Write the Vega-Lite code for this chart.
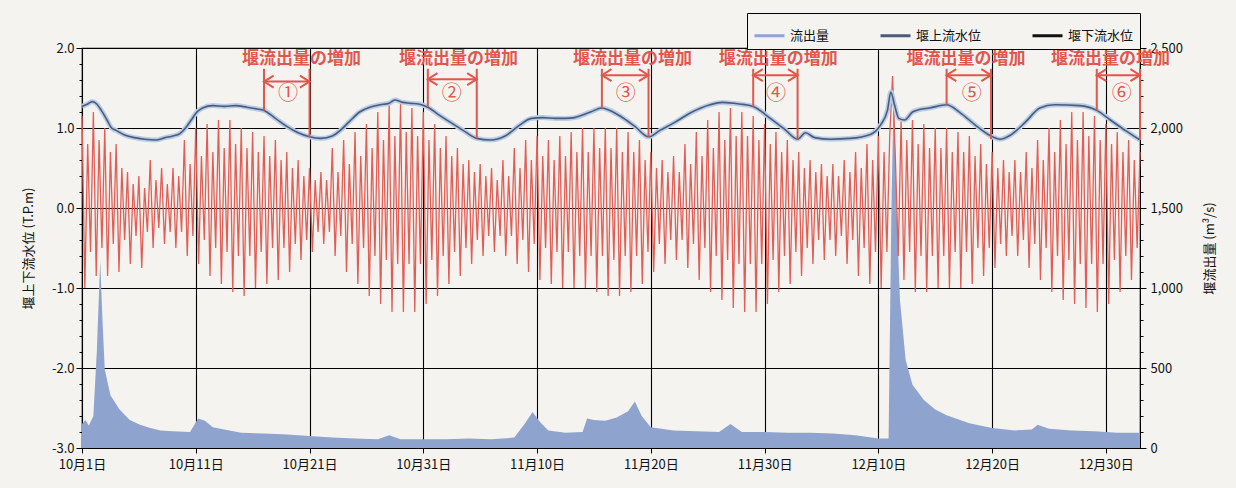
{
"$schema": "https://vega.github.io/schema/vega-lite/v6.json",
"width": 1058,
"height": 400,
"autosize": {"type": "none"},
"padding": {"left": 82, "top": 48, "right": 96, "bottom": 40},
"background": "#f5f3ef",
"config": {
  "font": "Noto Sans CJK JP",
  "view": {"stroke": "#000000", "strokeWidth": 1.2},
  "axis": {"labelFont": "Noto Sans CJK JP", "titleFont": "Noto Sans CJK JP", "labelFontSize": 13, "labelColor": "#111111", "titleColor": "#111111", "titleFontWeight": "normal", "titleFontSize": 13, "domainColor": "#000000", "tickColor": "#000000", "labelOverlap": false, "labelFlush": false, "labelBound": false}
},
"datasets": {
"flow": [{"d":0,"q":150},{"d":0.3,"q":175},{"d":0.6,"q":140},{"d":1.0,"q":200},{"d":1.3,"q":600},{"d":1.6,"q":1170},{"d":1.8,"q":800},{"d":2.0,"q":490},{"d":2.5,"q":330},{"d":3.3,"q":240},{"d":4.2,"q":175},{"d":5.1,"q":145},{"d":6.0,"q":125},{"d":6.9,"q":110},{"d":8.0,"q":105},{"d":9.5,"q":100},{"d":10.2,"q":185},{"d":10.8,"q":170},{"d":11.5,"q":130},{"d":12.5,"q":115},{"d":14,"q":95},{"d":16,"q":90},{"d":18,"q":85},{"d":20,"q":75},{"d":22,"q":65},{"d":24,"q":60},{"d":26,"q":55},{"d":27,"q":80},{"d":28,"q":55},{"d":30,"q":55},{"d":32,"q":55},{"d":34,"q":60},{"d":36,"q":55},{"d":38,"q":65},{"d":39.0,"q":160},{"d":39.6,"q":225},{"d":40.3,"q":160},{"d":41.0,"q":110},{"d":42.5,"q":95},{"d":44.0,"q":100},{"d":44.4,"q":185},{"d":45.0,"q":175},{"d":46.0,"q":170},{"d":47.0,"q":190},{"d":48.0,"q":230},{"d":48.6,"q":290},{"d":49.2,"q":200},{"d":50.0,"q":130},{"d":52,"q":110},{"d":54,"q":105},{"d":56,"q":100},{"d":57,"q":150},{"d":58,"q":100},{"d":60,"q":100},{"d":62,"q":95},{"d":64,"q":95},{"d":66,"q":90},{"d":68,"q":80},{"d":70,"q":60},{"d":70.9,"q":60},{"d":71.15,"q":1500},{"d":71.35,"q":2250},{"d":71.6,"q":1500},{"d":71.9,"q":925},{"d":72.4,"q":550},{"d":73.0,"q":395},{"d":74.0,"q":300},{"d":75.0,"q":240},{"d":76.0,"q":205},{"d":78.0,"q":155},{"d":80.0,"q":125},{"d":82.0,"q":110},{"d":83.5,"q":115},{"d":84.0,"q":145},{"d":85.0,"q":120},{"d":87.0,"q":110},{"d":89.0,"q":105},{"d":91.0,"q":95},{"d":93.0,"q":95}],
"up": [{"d":0,"u":1.27},{"d":0.5,"u":1.3},{"d":0.9,"u":1.33},{"d":1.3,"u":1.3},{"d":1.7,"u":1.22},{"d":2.2,"u":1.1},{"d":2.6,"u":1.0},{"d":3.0,"u":0.97},{"d":3.8,"u":0.91},{"d":4.6,"u":0.88},{"d":5.5,"u":0.86},{"d":6.5,"u":0.85},{"d":7.3,"u":0.88},{"d":8.0,"u":0.9},{"d":8.6,"u":0.93},{"d":9.1,"u":1.0},{"d":9.6,"u":1.1},{"d":10.1,"u":1.2},{"d":10.6,"u":1.25},{"d":11.5,"u":1.28},{"d":12.5,"u":1.27},{"d":13.5,"u":1.28},{"d":14.5,"u":1.26},{"d":15.3,"u":1.24},{"d":16.0,"u":1.22},{"d":17.0,"u":1.12},{"d":18.0,"u":1.02},{"d":19.0,"u":0.94},{"d":20.0,"u":0.89},{"d":21.0,"u":0.87},{"d":22.0,"u":0.9},{"d":22.7,"u":0.97},{"d":23.5,"u":1.08},{"d":24.4,"u":1.2},{"d":25.3,"u":1.26},{"d":26.2,"u":1.29},{"d":27.0,"u":1.31},{"d":27.5,"u":1.35},{"d":28.2,"u":1.32},{"d":28.8,"u":1.31},{"d":29.6,"u":1.3},{"d":30.4,"u":1.26},{"d":31.4,"u":1.16},{"d":32.4,"u":1.07},{"d":33.5,"u":0.97},{"d":34.7,"u":0.87},{"d":35.9,"u":0.85},{"d":37.2,"u":0.9},{"d":38.5,"u":1.04},{"d":39.5,"u":1.12},{"d":40.5,"u":1.13},{"d":41.6,"u":1.12},{"d":42.5,"u":1.12},{"d":43.3,"u":1.13},{"d":44.7,"u":1.2},{"d":45.7,"u":1.25},{"d":46.4,"u":1.22},{"d":47.3,"u":1.15},{"d":48.6,"u":1.02},{"d":49.8,"u":0.89},{"d":50.8,"u":0.97},{"d":52.1,"u":1.07},{"d":53.5,"u":1.19},{"d":55.2,"u":1.29},{"d":56.3,"u":1.32},{"d":57.8,"u":1.3},{"d":59.0,"u":1.27},{"d":60.5,"u":1.12},{"d":61.8,"u":0.98},{"d":62.9,"u":0.86},{"d":63.6,"u":0.94},{"d":64.4,"u":0.88},{"d":65.8,"u":0.86},{"d":67.5,"u":0.87},{"d":69.3,"u":0.92},{"d":70.2,"u":1.04},{"d":70.8,"u":1.22},{"d":71.1,"u":1.45},{"d":71.4,"u":1.3},{"d":71.8,"u":1.12},{"d":72.3,"u":1.1},{"d":73.0,"u":1.2},{"d":73.6,"u":1.23},{"d":74.5,"u":1.25},{"d":76.0,"u":1.29},{"d":77.2,"u":1.19},{"d":78.5,"u":1.04},{"d":79.9,"u":0.9},{"d":80.7,"u":0.86},{"d":81.6,"u":0.91},{"d":82.9,"u":1.07},{"d":84.2,"u":1.25},{"d":85.5,"u":1.29},{"d":87.7,"u":1.28},{"d":89.2,"u":1.22},{"d":90.4,"u":1.1},{"d":91.7,"u":0.97},{"d":93.0,"u":0.85}],
"tide": [{"d":0,"w":1.15},{"d":0.25,"w":-1.0},{"d":0.5,"w":0.8},{"d":0.75,"w":-0.55},
{"d":1,"w":1.2},{"d":1.25,"w":-0.85},{"d":1.5,"w":0.85},{"d":1.75,"w":-0.5},
{"d":2,"w":1.0},{"d":2.25,"w":-0.85},{"d":2.5,"w":0.7},{"d":2.75,"w":-0.45},
{"d":3,"w":0.8},{"d":3.25,"w":-0.8},{"d":3.5,"w":0.5},{"d":3.75,"w":-0.4},
{"d":4,"w":0.45},{"d":4.25,"w":-0.7},{"d":4.5,"w":0.3},{"d":4.75,"w":-0.35},
{"d":5,"w":0.4},{"d":5.25,"w":-0.75},{"d":5.5,"w":0.25},{"d":5.75,"w":-0.3},
{"d":6,"w":0.6},{"d":6.25,"w":-0.5},{"d":6.5,"w":0.35},{"d":6.75,"w":-0.25},
{"d":7,"w":0.5},{"d":7.25,"w":-0.45},{"d":7.5,"w":0.3},{"d":7.75,"w":-0.3},
{"d":8,"w":0.5},{"d":8.25,"w":-0.5},{"d":8.5,"w":0.4},{"d":8.75,"w":-0.3},
{"d":9,"w":0.85},{"d":9.25,"w":-0.6},{"d":9.5,"w":0.55},{"d":9.75,"w":-0.35},
{"d":10,"w":1.0},{"d":10.25,"w":-0.7},{"d":10.5,"w":0.65},{"d":10.75,"w":-0.4},
{"d":11,"w":1.05},{"d":11.25,"w":-0.85},{"d":11.5,"w":0.7},{"d":11.75,"w":-0.5},
{"d":12,"w":1.1},{"d":12.25,"w":-0.95},{"d":12.5,"w":0.75},{"d":12.75,"w":-0.55},
{"d":13,"w":1.1},{"d":13.25,"w":-1.05},{"d":13.5,"w":0.8},{"d":13.75,"w":-0.6},
{"d":14,"w":1.0},{"d":14.25,"w":-1.1},{"d":14.5,"w":0.75},{"d":14.75,"w":-0.6},
{"d":15,"w":0.95},{"d":15.25,"w":-1.0},{"d":15.5,"w":0.7},{"d":15.75,"w":-0.55},
{"d":16,"w":0.9},{"d":16.25,"w":-0.95},{"d":16.5,"w":0.65},{"d":16.75,"w":-0.5},
{"d":17,"w":0.85},{"d":17.25,"w":-0.9},{"d":17.5,"w":0.6},{"d":17.75,"w":-0.5},
{"d":18,"w":0.7},{"d":18.25,"w":-0.8},{"d":18.5,"w":0.5},{"d":18.75,"w":-0.45},
{"d":19,"w":0.6},{"d":19.25,"w":-0.65},{"d":19.5,"w":0.4},{"d":19.75,"w":-0.4},
{"d":20,"w":0.5},{"d":20.25,"w":-0.55},{"d":20.5,"w":0.35},{"d":20.75,"w":-0.3},
{"d":21,"w":0.45},{"d":21.25,"w":-0.45},{"d":21.5,"w":0.35},{"d":21.75,"w":-0.3},
{"d":22,"w":0.75},{"d":22.25,"w":-0.6},{"d":22.5,"w":0.45},{"d":22.75,"w":-0.35},
{"d":23,"w":0.85},{"d":23.25,"w":-0.8},{"d":23.5,"w":0.55},{"d":23.75,"w":-0.45},
{"d":24,"w":0.95},{"d":24.25,"w":-0.95},{"d":24.5,"w":0.65},{"d":24.75,"w":-0.5},
{"d":25,"w":1.05},{"d":25.25,"w":-1.1},{"d":25.5,"w":0.75},{"d":25.75,"w":-0.6},
{"d":26,"w":1.2},{"d":26.25,"w":-1.2},{"d":26.5,"w":0.85},{"d":26.75,"w":-0.65},
{"d":27,"w":1.3},{"d":27.25,"w":-1.3},{"d":27.5,"w":0.9},{"d":27.75,"w":-0.7},
{"d":28,"w":1.3},{"d":28.25,"w":-1.3},{"d":28.5,"w":0.95},{"d":28.75,"w":-0.7},
{"d":29,"w":1.25},{"d":29.25,"w":-1.3},{"d":29.5,"w":0.9},{"d":29.75,"w":-0.7},
{"d":30,"w":1.2},{"d":30.25,"w":-1.2},{"d":30.5,"w":0.85},{"d":30.75,"w":-0.65},
{"d":31,"w":1.05},{"d":31.25,"w":-1.1},{"d":31.5,"w":0.75},{"d":31.75,"w":-0.6},
{"d":32,"w":0.9},{"d":32.25,"w":-0.95},{"d":32.5,"w":0.65},{"d":32.75,"w":-0.55},
{"d":33,"w":0.75},{"d":33.25,"w":-0.85},{"d":33.5,"w":0.55},{"d":33.75,"w":-0.5},
{"d":34,"w":0.6},{"d":34.25,"w":-0.7},{"d":34.5,"w":0.45},{"d":34.75,"w":-0.4},
{"d":35,"w":0.55},{"d":35.25,"w":-0.6},{"d":35.5,"w":0.4},{"d":35.75,"w":-0.35},
{"d":36,"w":0.5},{"d":36.25,"w":-0.55},{"d":36.5,"w":0.35},{"d":36.75,"w":-0.35},
{"d":37,"w":0.6},{"d":37.25,"w":-0.6},{"d":37.5,"w":0.4},{"d":37.75,"w":-0.35},
{"d":38,"w":0.75},{"d":38.25,"w":-0.7},{"d":38.5,"w":0.5},{"d":38.75,"w":-0.4},
{"d":39,"w":0.85},{"d":39.25,"w":-0.8},{"d":39.5,"w":0.6},{"d":39.75,"w":-0.45},
{"d":40,"w":0.9},{"d":40.25,"w":-0.9},{"d":40.5,"w":0.65},{"d":40.75,"w":-0.5},
{"d":41,"w":0.85},{"d":41.25,"w":-0.95},{"d":41.5,"w":0.6},{"d":41.75,"w":-0.55},
{"d":42,"w":0.9},{"d":42.25,"w":-1.0},{"d":42.5,"w":0.65},{"d":42.75,"w":-0.55},
{"d":43,"w":0.95},{"d":43.25,"w":-1.0},{"d":43.5,"w":0.7},{"d":43.75,"w":-0.6},
{"d":44,"w":1.0},{"d":44.25,"w":-1.0},{"d":44.5,"w":0.7},{"d":44.75,"w":-0.6},
{"d":45,"w":1.0},{"d":45.25,"w":-1.05},{"d":45.5,"w":0.75},{"d":45.75,"w":-0.6},
{"d":46,"w":1.0},{"d":46.25,"w":-1.1},{"d":46.5,"w":0.75},{"d":46.75,"w":-0.65},
{"d":47,"w":1.0},{"d":47.25,"w":-1.1},{"d":47.5,"w":0.7},{"d":47.75,"w":-0.6},
{"d":48,"w":0.95},{"d":48.25,"w":-1.05},{"d":48.5,"w":0.7},{"d":48.75,"w":-0.6},
{"d":49,"w":0.85},{"d":49.25,"w":-0.95},{"d":49.5,"w":0.6},{"d":49.75,"w":-0.55},
{"d":50,"w":0.7},{"d":50.25,"w":-0.8},{"d":50.5,"w":0.5},{"d":50.75,"w":-0.45},
{"d":51,"w":0.6},{"d":51.25,"w":-0.7},{"d":51.5,"w":0.45},{"d":51.75,"w":-0.4},
{"d":52,"w":0.65},{"d":52.25,"w":-0.65},{"d":52.5,"w":0.45},{"d":52.75,"w":-0.4},
{"d":53,"w":0.8},{"d":53.25,"w":-0.75},{"d":53.5,"w":0.55},{"d":53.75,"w":-0.45},
{"d":54,"w":0.95},{"d":54.25,"w":-0.9},{"d":54.5,"w":0.65},{"d":54.75,"w":-0.5},
{"d":55,"w":1.1},{"d":55.25,"w":-1.05},{"d":55.5,"w":0.75},{"d":55.75,"w":-0.6},
{"d":56,"w":1.2},{"d":56.25,"w":-1.15},{"d":56.5,"w":0.85},{"d":56.75,"w":-0.65},
{"d":57,"w":1.25},{"d":57.25,"w":-1.25},{"d":57.5,"w":0.9},{"d":57.75,"w":-0.7},
{"d":58,"w":1.2},{"d":58.25,"w":-1.3},{"d":58.5,"w":0.9},{"d":58.75,"w":-0.7},
{"d":59,"w":1.15},{"d":59.25,"w":-1.3},{"d":59.5,"w":0.85},{"d":59.75,"w":-0.7},
{"d":60,"w":1.05},{"d":60.25,"w":-1.2},{"d":60.5,"w":0.8},{"d":60.75,"w":-0.65},
{"d":61,"w":0.95},{"d":61.25,"w":-1.05},{"d":61.5,"w":0.7},{"d":61.75,"w":-0.6},
{"d":62,"w":0.85},{"d":62.25,"w":-0.95},{"d":62.5,"w":0.6},{"d":62.75,"w":-0.55},
{"d":63,"w":0.7},{"d":63.25,"w":-0.85},{"d":63.5,"w":0.5},{"d":63.75,"w":-0.5},
{"d":64,"w":0.6},{"d":64.25,"w":-0.7},{"d":64.5,"w":0.45},{"d":64.75,"w":-0.4},
{"d":65,"w":0.55},{"d":65.25,"w":-0.65},{"d":65.5,"w":0.4},{"d":65.75,"w":-0.4},
{"d":66,"w":0.55},{"d":66.25,"w":-0.6},{"d":66.5,"w":0.4},{"d":66.75,"w":-0.35},
{"d":67,"w":0.6},{"d":67.25,"w":-0.7},{"d":67.5,"w":0.45},{"d":67.75,"w":-0.4},
{"d":68,"w":0.7},{"d":68.25,"w":-0.85},{"d":68.5,"w":0.5},{"d":68.75,"w":-0.5},
{"d":69,"w":0.8},{"d":69.25,"w":-0.95},{"d":69.5,"w":0.6},{"d":69.75,"w":-0.55},
{"d":70,"w":0.9},{"d":70.25,"w":-1.0},{"d":70.5,"w":0.7},{"d":70.75,"w":-0.55},
{"d":71,"w":0.9},{"d":71.25,"w":1.65},{"d":71.5,"w":0.6},{"d":71.75,"w":-0.6},
{"d":72,"w":1.1},{"d":72.25,"w":-0.9},{"d":72.5,"w":0.85},{"d":72.75,"w":-0.55},
{"d":73,"w":1.1},{"d":73.25,"w":-1.05},{"d":73.5,"w":0.8},{"d":73.75,"w":-0.6},
{"d":74,"w":1.05},{"d":74.25,"w":-1.05},{"d":74.5,"w":0.75},{"d":74.75,"w":-0.6},
{"d":75,"w":1.0},{"d":75.25,"w":-1.0},{"d":75.5,"w":0.75},{"d":75.75,"w":-0.6},
{"d":76,"w":1.0},{"d":76.25,"w":-1.0},{"d":76.5,"w":0.7},{"d":76.75,"w":-0.55},
{"d":77,"w":0.95},{"d":77.25,"w":-1.0},{"d":77.5,"w":0.7},{"d":77.75,"w":-0.55},
{"d":78,"w":0.9},{"d":78.25,"w":-0.95},{"d":78.5,"w":0.65},{"d":78.75,"w":-0.5},
{"d":79,"w":0.8},{"d":79.25,"w":-0.85},{"d":79.5,"w":0.55},{"d":79.75,"w":-0.5},
{"d":80,"w":0.7},{"d":80.25,"w":-0.75},{"d":80.5,"w":0.5},{"d":80.75,"w":-0.45},
{"d":81,"w":0.6},{"d":81.25,"w":-0.6},{"d":81.5,"w":0.45},{"d":81.75,"w":-0.35},
{"d":82,"w":0.6},{"d":82.25,"w":-0.6},{"d":82.5,"w":0.45},{"d":82.75,"w":-0.4},
{"d":83,"w":0.7},{"d":83.25,"w":-0.75},{"d":83.5,"w":0.5},{"d":83.75,"w":-0.45},
{"d":84,"w":0.85},{"d":84.25,"w":-0.9},{"d":84.5,"w":0.6},{"d":84.75,"w":-0.5},
{"d":85,"w":1.0},{"d":85.25,"w":-1.05},{"d":85.5,"w":0.7},{"d":85.75,"w":-0.6},
{"d":86,"w":1.1},{"d":86.25,"w":-1.15},{"d":86.5,"w":0.8},{"d":86.75,"w":-0.65},
{"d":87,"w":1.2},{"d":87.25,"w":-1.2},{"d":87.5,"w":0.85},{"d":87.75,"w":-0.7},
{"d":88,"w":1.2},{"d":88.25,"w":-1.25},{"d":88.5,"w":0.9},{"d":88.75,"w":-0.7},
{"d":89,"w":1.15},{"d":89.25,"w":-1.3},{"d":89.5,"w":0.85},{"d":89.75,"w":-0.7},
{"d":90,"w":1.05},{"d":90.25,"w":-1.2},{"d":90.5,"w":0.8},{"d":90.75,"w":-0.65},
{"d":91,"w":0.95},{"d":91.25,"w":-1.05},{"d":91.5,"w":0.7},{"d":91.75,"w":-0.6},
{"d":92,"w":0.85},{"d":92.25,"w":-0.9},{"d":92.5,"w":0.6},{"d":92.75,"w":-0.5},
{"d":93,"w":0.7}],
"ann": [
 {"n":"①","lab":"堰流出量の増加","s":16.0,"e":20.0,"t":19.3,"c":18.1,"a":1.58,"bl":1.22,"br":0.89},
 {"n":"②","lab":"堰流出量の増加","s":30.4,"e":34.7,"t":33.1,"c":32.5,"a":1.61,"bl":1.26,"br":0.87},
 {"n":"③","lab":"堰流出量の増加","s":45.7,"e":49.8,"t":48.4,"c":47.8,"a":1.66,"bl":1.25,"br":0.89},
 {"n":"④","lab":"堰流出量の増加","s":59.0,"e":62.9,"t":61.2,"c":61.0,"a":1.66,"bl":1.27,"br":0.86},
 {"n":"⑤","lab":"堰流出量の増加","s":76.0,"e":79.9,"t":77.7,"c":78.2,"a":1.66,"bl":1.29,"br":0.86},
 {"n":"⑥","lab":"堰流出量の増加","s":89.2,"e":93.0,"t":90.4,"c":91.4,"a":1.66,"bl":1.22,"br":0.85}
]
},
"resolve": {"scale": {"y": "independent"}},
"layer": [
 {
  "data": {"name": "flow"},
  "mark": {"type": "area", "opacity": 1},
  "encoding": {
   "x": {"field": "d", "type": "quantitative", "scale": {"domain": [0, 93], "nice": false, "zero": false},
     "axis": {"values": [0,10,20,30,40,50,60,70,80,90], "labelExpr": "['10月1日','10月11日','10月21日','10月31日','11月10日','11月20日','11月30日','12月10日','12月20日','12月30日'][round(datum.value/10)]", "grid": true, "gridColor": "#000000", "gridWidth": 1.1, "tickSize": 5, "labelPadding": 5, "title": null}},
   "y": {"field": "q", "type": "quantitative", "scale": {"domain": [0, 2500], "nice": false},
     "axis": {"orient": "right", "values": [0,100,200,300,400,500,600,700,800,900,1000,1100,1200,1300,1400,1500,1600,1700,1800,1900,2000,2100,2200,2300,2400,2500],
       "labelExpr": "datum.value % 500 === 0 ? format(datum.value, ',') : ''", "grid": false,
       "tickSize": {"condition": {"test": "datum.value % 500 === 0", "value": 6}, "value": 3},
       "labelPadding": 4, "title": "堰流出量 (m³/s)", "titleAngle": 270, "titlePadding": 34}},
   "color": {"datum": "流出量", "type": "nominal",
     "scale": {"domain": ["流出量", "堰上流水位", "堰下流水位"], "range": ["#8ea3cd", "#4b5b7c", "#111111"]},
     "legend": {"orient": "none", "legendX": 665, "legendY": -35, "direction": "horizontal", "title": null,
       "symbolType": "stroke", "symbolSize": 900, "symbolStrokeWidth": 3,
       "labelFont": "Noto Sans CJK JP", "labelFontSize": 13, "labelColor": "#111111",
       "strokeColor": "#000000", "fillColor": "#f5f3ef", "padding": 6, "columnPadding": 44, "labelOffset": 4}}
  }
 },
 {
  "data": {"name": "tide"},
  "mark": {"type": "line", "strokeWidth": 1.3},
  "encoding": {
   "x": {"field": "d", "type": "quantitative"},
   "y": {"field": "w", "type": "quantitative", "scale": {"domain": [-3, 2], "nice": false, "zero": false},
     "axis": {"orient": "left", "values": [-3,-2.8,-2.6,-2.4,-2.2,-2,-1.8,-1.6,-1.4,-1.2,-1,-0.8,-0.6,-0.4,-0.2,0,0.2,0.4,0.6,0.8,1,1.2,1.4,1.6,1.8,2],
       "labelExpr": "abs(datum.value - round(datum.value)) < 0.01 ? replace(format(datum.value, '.1f'), '−', '-') : ''",
       "grid": true, "gridColor": "#000000", "gridWidth": 1.1,
       "gridOpacity": {"condition": {"test": "abs(datum.value - round(datum.value)) < 0.01", "value": 1}, "value": 0},
       "tickSize": {"condition": {"test": "abs(datum.value - round(datum.value)) < 0.01", "value": 6}, "value": 3},
       "labelPadding": 2, "title": "堰上下流水位 (T.P.m)", "titlePadding": 16}},
   "color": {"datum": "堰下流水位", "type": "nominal"},
   "stroke": {"value": "#e25d55"}
  }
 },
 {
  "data": {"name": "up"},
  "mark": {"type": "line", "color": "#b9cde6", "strokeWidth": 5, "interpolate": "monotone"},
  "encoding": {
   "x": {"field": "d", "type": "quantitative"},
   "y": {"field": "u", "type": "quantitative", "scale": {"domain": [-3, 2], "nice": false, "zero": false}, "axis": null}
  }
 },
 {
  "data": {"name": "up"},
  "mark": {"type": "line", "strokeWidth": 1.6, "interpolate": "monotone"},
  "encoding": {
   "x": {"field": "d", "type": "quantitative"},
   "y": {"field": "u", "type": "quantitative", "scale": {"domain": [-3, 2], "nice": false, "zero": false}, "axis": null},
   "color": {"datum": "堰上流水位", "type": "nominal"}
  }
 },
 {
  "data": {"name": "ann"},
  "mark": {"type": "rule", "color": "#e0574e", "strokeWidth": 2},
  "encoding": {
   "x": {"field": "s", "type": "quantitative"},
   "y": {"field": "bl", "type": "quantitative", "scale": {"domain": [-3, 2], "nice": false, "zero": false}, "axis": null},
   "y2": {"datum": 1.74}
  }
 },
 {
  "data": {"name": "ann"},
  "mark": {"type": "rule", "color": "#e0574e", "strokeWidth": 2},
  "encoding": {
   "x": {"field": "e", "type": "quantitative"},
   "y": {"field": "br", "type": "quantitative", "scale": {"domain": [-3, 2], "nice": false, "zero": false}, "axis": null},
   "y2": {"datum": 1.74}
  }
 },
 {
  "data": {"name": "ann"},
  "mark": {"type": "rule", "color": "#e0574e", "strokeWidth": 2},
  "encoding": {
   "x": {"field": "s", "type": "quantitative"},
   "x2": {"field": "e"},
   "y": {"field": "a", "type": "quantitative", "scale": {"domain": [-3, 2], "nice": false, "zero": false}, "axis": null}
  }
 },
 {
  "data": {"name": "ann"},
  "mark": {"type": "point", "shape": "M1.6,-1L0,0L1.6,1", "filled": false, "stroke": "#e0574e", "strokeWidth": 2, "size": 144, "opacity": 1},
  "encoding": {
   "x": {"field": "s", "type": "quantitative"},
   "y": {"field": "a", "type": "quantitative", "scale": {"domain": [-3, 2], "nice": false, "zero": false}, "axis": null}
  }
 },
 {
  "data": {"name": "ann"},
  "mark": {"type": "point", "shape": "M-1.6,-1L0,0L-1.6,1", "filled": false, "stroke": "#e0574e", "strokeWidth": 2, "size": 144, "opacity": 1},
  "encoding": {
   "x": {"field": "e", "type": "quantitative"},
   "y": {"field": "a", "type": "quantitative", "scale": {"domain": [-3, 2], "nice": false, "zero": false}, "axis": null}
  }
 },
 {
  "data": {"name": "ann"},
  "mark": {"type": "text", "color": "#e0574e", "font": "Noto Sans CJK JP", "fontSize": 17, "fontWeight": "bold", "align": "center", "baseline": "middle"},
  "encoding": {
   "x": {"field": "t", "type": "quantitative"},
   "y": {"datum": 1.86, "type": "quantitative", "scale": {"domain": [-3, 2], "nice": false, "zero": false}, "axis": null},
   "text": {"field": "lab"}
  }
 },
 {
  "data": {"name": "ann"},
  "mark": {"type": "text", "color": "#e0574e", "font": "Noto Sans CJK JP", "fontSize": 20, "align": "center", "baseline": "middle"},
  "encoding": {
   "x": {"field": "c", "type": "quantitative"},
   "y": {"datum": 1.43, "type": "quantitative", "scale": {"domain": [-3, 2], "nice": false, "zero": false}, "axis": null},
   "text": {"field": "n"}
  }
 }
]
}
